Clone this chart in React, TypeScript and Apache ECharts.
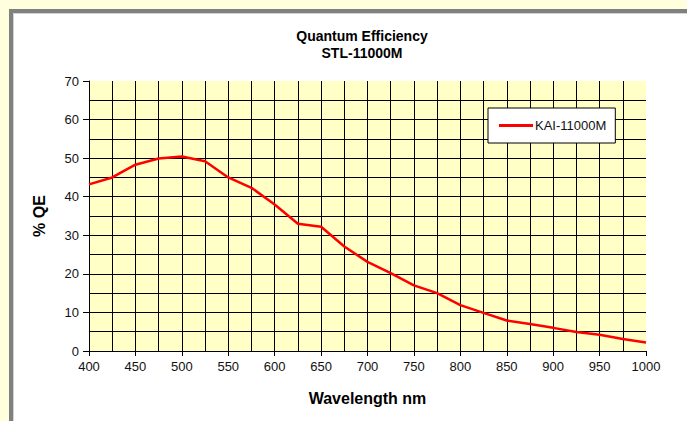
import React, { useEffect, useRef } from "react";
import * as echarts from "echarts";

const wavelengths = [400, 425, 450, 475, 500, 525, 550, 575, 600, 625, 650, 675, 700, 725, 750, 775, 800, 825, 850, 875, 900, 925, 950, 975, 1000];
const qeValues = [43.2, 45, 48.3, 49.9, 50.4, 49.2, 45, 42.3, 38, 33, 32.2, 27.1, 23.1, 20.2, 17, 15, 11.9, 9.9, 7.9, 7, 6, 4.9, 4.2, 3.1, 2.2];
const seriesName = "KAI-11000M";
const titleLines = ["Quantum Efficiency", "STL-11000M"];
const xAxisName = "Wavelength nm";
const yAxisName = "% QE";

const FONT = 'Arial, "Liberation Sans", sans-serif';

export default function App() {
  const ref = useRef<HTMLDivElement>(null);
  useEffect(() => {
    if (!ref.current) return;
    const chart = echarts.init(ref.current, undefined, { renderer: "svg" });
    const data = wavelengths.map((w, i) => [w, qeValues[i]]);
    chart.setOption({
      animation: false,
      backgroundColor: "#FFFFDD",
      graphic: [
        { type: "rect", z: -10, shape: { x: 9, y: 9, width: 700, height: 430 }, style: { fill: "#808080" } },
        { type: "rect", z: -9, shape: { x: 13, y: 13, width: 700, height: 430 }, style: { fill: "#D4D4D4" } },
        { type: "rect", z: -8, shape: { x: 14, y: 14, width: 700, height: 430 }, style: { fill: "#FFFFFF" } },
      ],
      title: {
        text: titleLines.join("\n"),
        left: 357,
        top: 22,
        textAlign: "center",
        textStyle: { fontFamily: FONT, fontSize: 14, fontWeight: "bold", color: "#000", lineHeight: 17 },
      },
      legend: {
        left: 488,
        top: 108,
        orient: "vertical",
        backgroundColor: "#FFFFFF",
        borderColor: "#000",
        borderWidth: 1,
        borderRadius: 0,
        padding: [11, 9, 11, 11],
        itemWidth: 34,
        itemHeight: 3,
        itemGap: 5,
        icon: "rect",
        textStyle: { fontFamily: FONT, fontSize: 13, color: "#111", padding: [0, 0, 0, -3] },
        data: [seriesName],
      },
      grid: {
        left: 89,
        right: 41,
        top: 81,
        bottom: 70,
        show: true,
        backgroundColor: "#FFFFC6",
        borderWidth: 0,
      },
      xAxis: {
        type: "value",
        min: 400,
        max: 1000,
        interval: 50,
        name: xAxisName,
        nameLocation: "middle",
        nameGap: 39,
        nameTextStyle: { fontFamily: FONT, fontSize: 16, fontWeight: "bold", color: "#000" },
        axisLine: { show: true, lineStyle: { color: "#000", width: 1 } },
        axisTick: { show: true, length: 5, lineStyle: { color: "#000" } },
        axisLabel: { fontFamily: FONT, fontSize: 13, color: "#111", margin: 9, formatter: (v: number) => String(v) },
        splitLine: { show: true, showMinLine: false, showMaxLine: false, lineStyle: { color: "#000", width: 1 } },
        minorTick: { show: false, splitNumber: 2 },
        minorSplitLine: { show: true, lineStyle: { color: "#000", width: 1 } },
      },
      yAxis: {
        type: "value",
        min: 0,
        max: 70,
        interval: 10,
        name: yAxisName,
        nameLocation: "middle",
        nameRotate: 90,
        nameGap: 42,
        nameTextStyle: { fontFamily: FONT, fontSize: 16, fontWeight: "bold", color: "#000" },
        axisLine: { show: true, lineStyle: { color: "#000", width: 1 } },
        axisTick: { show: true, length: 6, lineStyle: { color: "#000" } },
        axisLabel: { fontFamily: FONT, fontSize: 13, color: "#111", margin: 10, formatter: (v: number) => String(v) },
        splitLine: { show: true, showMinLine: false, showMaxLine: false, lineStyle: { color: "#000", width: 1 } },
        minorTick: { show: false, splitNumber: 2 },
        minorSplitLine: { show: true, lineStyle: { color: "#000", width: 1 } },
      },
      series: [
        {
          name: seriesName,
          type: "line",
          data,
          showSymbol: false,
          symbol: "none",
          color: "#FF0000",
          lineStyle: { color: "#FF0000", width: 2.5 },
          z: 5,
        },
      ],
    });
    return () => chart.dispose();
  }, []);
  return <div ref={ref} style={{ position: "fixed", left: 0, top: 0, width: 687, height: 421 }} />;
}
